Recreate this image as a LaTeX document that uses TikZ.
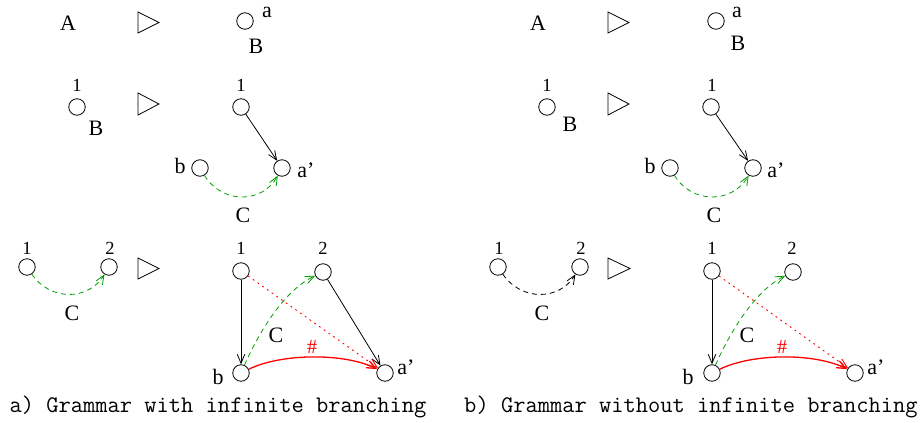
\documentclass[tikz,border=0pt]{standalone}
\usepackage{fontspec}
\setmainfont{Liberation Serif}
\usetikzlibrary{arrows.meta}
\definecolor{grn}{rgb}{0,0.62,0}
\begin{document}
\begin{tikzpicture}[x=1pt,y=-1pt,
  v/.style={circle,draw,minimum size=16.5pt,inner sep=0pt,line width=0.8pt},
  lbl/.style={inner sep=0pt,font=\fontsize{22}{22}\selectfont},
  num/.style={inner sep=0pt,font=\fontsize{18.5}{18.5}\selectfont},
  hashlbl/.style={inner sep=0pt,text=red,font=\fontsize{20}{20}\selectfont},
  captxt/.style={inner sep=0pt,anchor=base,font=\ttfamily\fontsize{23.8}{25}\selectfont},
  tipstyle/.style={-{Straight Barb[length=9pt,width=7.5pt]}},
  karr/.style={tipstyle,line width=0.8pt},
  gdash/.style={tipstyle,line width=0.8pt,grn,dash pattern=on 5pt off 4pt},
  kdash/.style={tipstyle,line width=0.8pt,dash pattern=on 5pt off 4pt},
  rdot/.style={tipstyle,line width=0.9pt,red,dash pattern=on 1.8pt off 4pt},
  rarc/.style={tipstyle,line width=1.3pt,red},
  tri/.style={line width=0.8pt,line join=miter}]
\useasboundingbox (0,0) rectangle (922,423);

% ================= panel a =================
% row 1
\node[lbl] (aA) at (68,23) {A};
\draw[tri] (138,12) -- (159,22.5) -- (138,33) -- cycle;
\node[v] (at1) at (245,21) {};
\node[lbl] (at1a) at (267,12) {a};
\node[lbl] (at1B) at (256,46) {B};
% row 2
\node[num] (ar2n1) at (77,85) {1};
\node[v] (ar2c) at (77,107) {};
\node[lbl] (ar2B) at (96,128) {B};
\draw[tri] (138,93) -- (159,104) -- (138,115) -- cycle;
\node[num] (ar2m1) at (241,85) {1};
\node[v] (ar2one) at (241,107) {};
\node[v] (ar2b) at (200,168) {};
\node[lbl] (ar2bl) at (180,166) {b};
\node[v] (ar2a) at (282,168) {};
\node[lbl] (ar2al) at (306,170) {a'};
\node[lbl] (ar2C) at (243,215) {C};
\draw[karr] (ar2one) -- (ar2a);
\draw[gdash] (ar2b) .. controls (222,204) and (262,204) .. (ar2a);
% row 3 left
\node[num] (ar3n1) at (27,248) {1};
\node[v] (ar3c1) at (27,267) {};
\node[num] (ar3n2) at (110,248) {2};
\node[v] (ar3c2) at (109,267) {};
\node[lbl] (ar3C) at (72,313) {C};
\draw[gdash] (ar3c1) .. controls (50,301) and (88,301) .. (ar3c2);
\draw[tri] (138,258) -- (159,268.5) -- (138,279) -- cycle;
% row 3 right
\node[num] (ar3m1) at (241,248) {1};
\node[v] (ar3one) at (241,271) {};
\node[num] (ar3m2) at (323,248) {2};
\node[v] (ar3two) at (323,272) {};
\node[v] (ar3b) at (241,373) {};
\node[lbl] (ar3bl) at (218,377) {b};
\node[v] (ar3a) at (385,373) {};
\node[lbl] (ar3al) at (406,367) {a'};
\node[lbl] (ar3C) at (276,335) {C};
\node[hashlbl] (ar3h) at (312,347) {\#};
\draw[karr] (ar3one) -- (ar3b);
\draw[karr] (ar3two) -- (ar3a);
\draw[rdot] (ar3one) -- (ar3a);
\draw[gdash] (ar3b) .. controls (260,330) and (285,290) .. (ar3two);
\draw[rarc] (ar3b) .. controls (282,353) and (345,353) .. (ar3a);
\node[captxt] (capa) at (218,412) {a) Grammar with infinite branching};

% ================= panel b =================
% row 1
\node[lbl] (bA) at (538,23) {A};
\draw[tri] (608,12) -- (629,22.5) -- (608,33) -- cycle;
\node[v] (bt1) at (716,21) {};
\node[lbl] (bt1a) at (737,12) {a};
\node[lbl] (bt1B) at (738,43) {B};
% row 2
\node[num] (br2n1) at (547,85) {1};
\node[v] (br2c) at (547,107) {};
\node[lbl] (br2B) at (570,124) {B};
\draw[tri] (608,93) -- (629,104) -- (608,115) -- cycle;
\node[num] (br2m1) at (712,85) {1};
\node[v] (br2one) at (711,107) {};
\node[v] (br2b) at (670,168) {};
\node[lbl] (br2bl) at (650,166) {b};
\node[v] (br2a) at (753,168) {};
\node[lbl] (br2al) at (776,170) {a'};
\node[lbl] (br2C) at (714,215) {C};
\draw[karr] (br2one) -- (br2a);
\draw[gdash] (br2b) .. controls (692,204) and (732,204) .. (br2a);
% row 3 left
\node[num] (br3n1) at (499,248) {1};
\node[v] (br3c1) at (498,267) {};
\node[num] (br3n2) at (581,248) {2};
\node[v] (br3c2) at (580,267) {};
\node[lbl] (br3C) at (542,313) {C};
\draw[kdash] (br3c1) .. controls (521,301) and (559,301) .. (br3c2);
\draw[tri] (608,258) -- (630,268.5) -- (608,279) -- cycle;
% row 3 right
\node[num] (br3m1) at (712,248) {1};
\node[v] (br3one) at (712,271) {};
\node[num] (br3m2) at (792,248) {2};
\node[v] (br3two) at (793,272) {};
\node[v] (br3b) at (712,373) {};
\node[lbl] (br3bl) at (688,377) {b};
\node[v] (br3a) at (855,373) {};
\node[lbl] (br3al) at (876,367) {a'};
\node[lbl] (br3C) at (747,335) {C};
\node[hashlbl] (br3h) at (782,347) {\#};
\draw[karr] (br3one) -- (br3b);
\draw[rdot] (br3one) -- (br3a);
\draw[gdash] (br3b) .. controls (731,330) and (756,290) .. (br3two);
\draw[rarc] (br3b) .. controls (753,353) and (815,353) .. (br3a);
\node[captxt] (capb) at (691,412) {b) Grammar without infinite branching};
\end{tikzpicture}
\end{document}
